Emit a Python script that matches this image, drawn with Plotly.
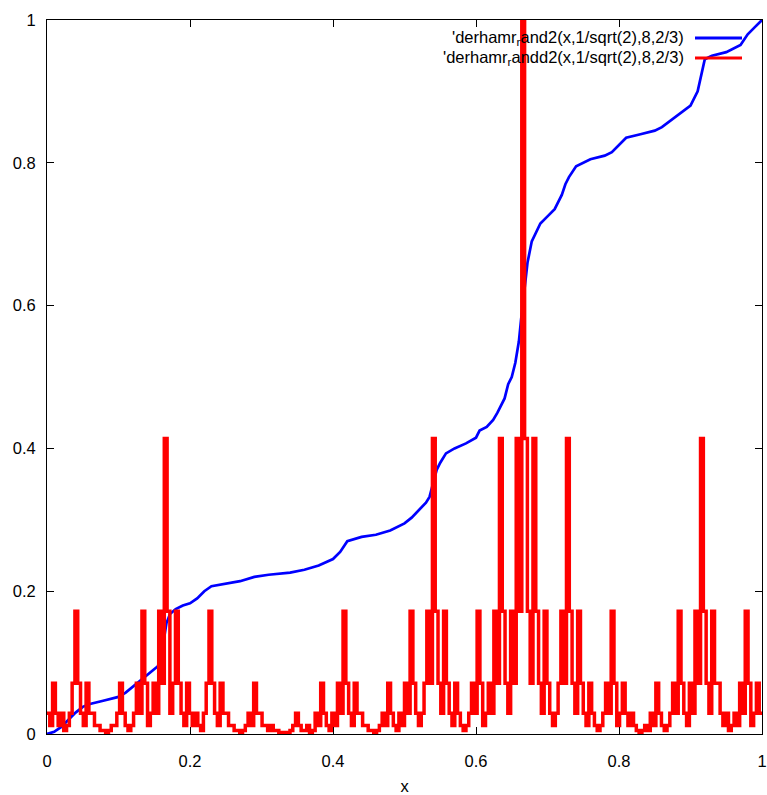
import plotly.graph_objects as go

# ---- data ----
# red step function: 256 equal bins on [0,1]; each bin's height is one of these levels
level_values = [1.0, 0.414, 0.172, 0.071, 0.029, 0.012, 0.005, 0.002, 0.001]

bins_0 = [4,5,3,4,5,4,6,5,4,3,2,3,4,5,3,4, 4,5,5,6,6,7,6,5,5,4,3,4,5,6,5,4]
bins_1 = [3,4,2,3,5,4,3,4,2,3,1,2,4,3,2,3, 4,5,3,4,5,4,5,6,4,3,2,3,4,5,3,4]
bins_2 = [4,5,5,6,6,7,6,5,4,5,3,4,4,5,5,6, 5,6,6,7,7,8,7,6,5,4,5,6,6,5,7,6]
bins_3 = [4,5,3,4,5,6,4,5,3,4,2,3,4,5,3,4, 4,5,5,6,6,7,6,5,4,5,3,4,5,6,4,5]
bins_4 = [3,4,2,3,4,5,4,3,2,3,1,2,3,4,2,3, 4,5,3,4,5,6,5,4,3,4,2,3,5,4,3,4]
bins_5 = [2,3,1,2,3,4,2,3,1,2,0,1,2,3,1,2, 3,4,2,3,4,5,4,3,2,3,1,2,3,4,2,3]
bins_6 = [4,5,3,4,5,6,5,4,3,4,2,3,5,4,3,4, 5,4,5,6,7,6,5,6,4,5,3,4,5,6,5,4]
bins_7 = [3,4,2,3,4,5,3,4,2,3,1,2,3,4,2,3, 3,4,5,4,6,5,4,5,3,4,2,3,5,4,3,4]

# blue curve, points
blue_x = [0, 0.01, 0.02, 0.03, 0.04, 0.05, 0.06, 0.08, 0.10, 0.11, 0.12, 0.13, 0.14, 0.15,
          0.155, 0.16, 0.163, 0.167, 0.172, 0.18, 0.19, 0.20, 0.21, 0.22, 0.23, 0.25, 0.27,
          0.29, 0.31, 0.34, 0.36, 0.38, 0.40, 0.41, 0.415, 0.42, 0.44, 0.46, 0.48, 0.50,
          0.51, 0.52, 0.53, 0.535, 0.54, 0.545, 0.55, 0.558, 0.57, 0.586, 0.60, 0.605,
          0.615, 0.624, 0.63, 0.635, 0.64, 0.645, 0.65, 0.655, 0.66, 0.663, 0.667, 0.672,
          0.678, 0.685, 0.69, 0.70, 0.71, 0.72, 0.725, 0.73, 0.74, 0.76, 0.78, 0.79, 0.80,
          0.81, 0.83, 0.85, 0.86, 0.88, 0.90, 0.91, 0.915, 0.92, 0.93, 0.95, 0.97, 0.98,
          0.99, 1.0]
blue_y = [0, 0.003, 0.01, 0.02, 0.03, 0.038, 0.042, 0.047, 0.052, 0.058, 0.066, 0.075, 0.083,
          0.09, 0.095, 0.11, 0.13, 0.155, 0.168, 0.175, 0.18, 0.183, 0.19, 0.2, 0.207, 0.21,
          0.214, 0.22, 0.223, 0.226, 0.23, 0.236, 0.245, 0.255, 0.263, 0.27, 0.276, 0.279,
          0.285, 0.295, 0.303, 0.313, 0.324, 0.332, 0.35, 0.37, 0.38, 0.393, 0.4, 0.407,
          0.415, 0.425, 0.43, 0.44, 0.45, 0.46, 0.47, 0.49, 0.5, 0.52, 0.55, 0.58, 0.62,
          0.66, 0.69, 0.705, 0.715, 0.725, 0.735, 0.755, 0.77, 0.78, 0.795, 0.805, 0.81,
          0.815, 0.825, 0.835, 0.84, 0.845, 0.85, 0.865, 0.88, 0.9, 0.925, 0.945, 0.95,
          0.955, 0.965, 0.98, 0.99, 1.0]

x_ticks = [0, 0.2, 0.4, 0.6, 0.8, 1]
x_tick_labels = ["0", "0.2", "0.4", "0.6", "0.8", "1"]
y_ticks = [0, 0.2, 0.4, 0.6, 0.8, 1]
y_tick_labels = ["0", "0.2", "0.4", "0.6", "0.8", "1"]

legend_blue = "'derhamr<sub>r</sub>and2(x,1/sqrt(2),8,2/3)"
legend_red = "'derhamr<sub>r</sub>andd2(x,1/sqrt(2),8,2/3)"

# ---- build ----
levels = bins_0 + bins_1 + bins_2 + bins_3 + bins_4 + bins_5 + bins_6 + bins_7
n = len(levels)
red_x = [i / n for i in range(n + 1)]
red_y = [level_values[k] for k in levels]
red_y = red_y + [red_y[-1]]

FONT = "Liberation Sans, Arial, sans-serif"
FS = 16.5
fig = go.Figure()
fig.add_trace(go.Scatter(x=blue_x, y=blue_y, mode="lines",
                         line=dict(color="#0000ff", width=2.7), showlegend=False))
fig.add_trace(go.Scatter(x=red_x, y=red_y, mode="lines", line_shape="hv",
                         line=dict(color="#ff0000", width=3.5), showlegend=False))

W, H = 767, 795
ml, mr, mt, mb = 47, 5, 20, 61
pw, ph = W - ml - mr, H - mt - mb

def px_x(p):
    return (p - ml) / pw

def px_y(p):
    return 1 - (p - mt) / ph

for txt, col, ypx in [(legend_blue, "#0000ff", 38), (legend_red, "#ff0000", 58)]:
    fig.add_annotation(x=px_x(686), y=px_y(ypx), xref="paper", yref="paper",
                       text=txt, showarrow=False, xanchor="right", yanchor="middle",
                       font=dict(family=FONT, size=FS, color="#000000"))
    fig.add_shape(type="line", xref="paper", yref="paper",
                  x0=px_x(695), x1=px_x(742), y0=px_y(ypx), y1=px_y(ypx),
                  line=dict(color=col, width=3))

axis_common = dict(showgrid=False, zeroline=False, showline=True, mirror="ticks",
                   linecolor="#000000", linewidth=1, ticks="inside", ticklen=7,
                   tickcolor="#000000", automargin=False, ticklabeloverflow="allow",
                   tickfont=dict(family=FONT, size=FS, color="#000000"))
fig.update_xaxes(range=[0, 1], tickvals=x_ticks, ticktext=x_tick_labels,
                 title=dict(text="x", font=dict(family=FONT, size=FS, color="#000000"), standoff=14),
                 ticklabelstandoff=12, **axis_common)
fig.update_yaxes(range=[0, 1], tickvals=y_ticks, ticktext=y_tick_labels,
                 ticklabelstandoff=7, **axis_common)
fig.update_layout(width=W, height=H, margin=dict(l=ml, r=mr, t=mt, b=mb),
                  paper_bgcolor="white", plot_bgcolor="white", showlegend=False)
fig.write_html("out.html", config={"displayModeBar": False},
               post_script="document.body.style.margin='0';"
                           "document.body.style.overflow='hidden';")
